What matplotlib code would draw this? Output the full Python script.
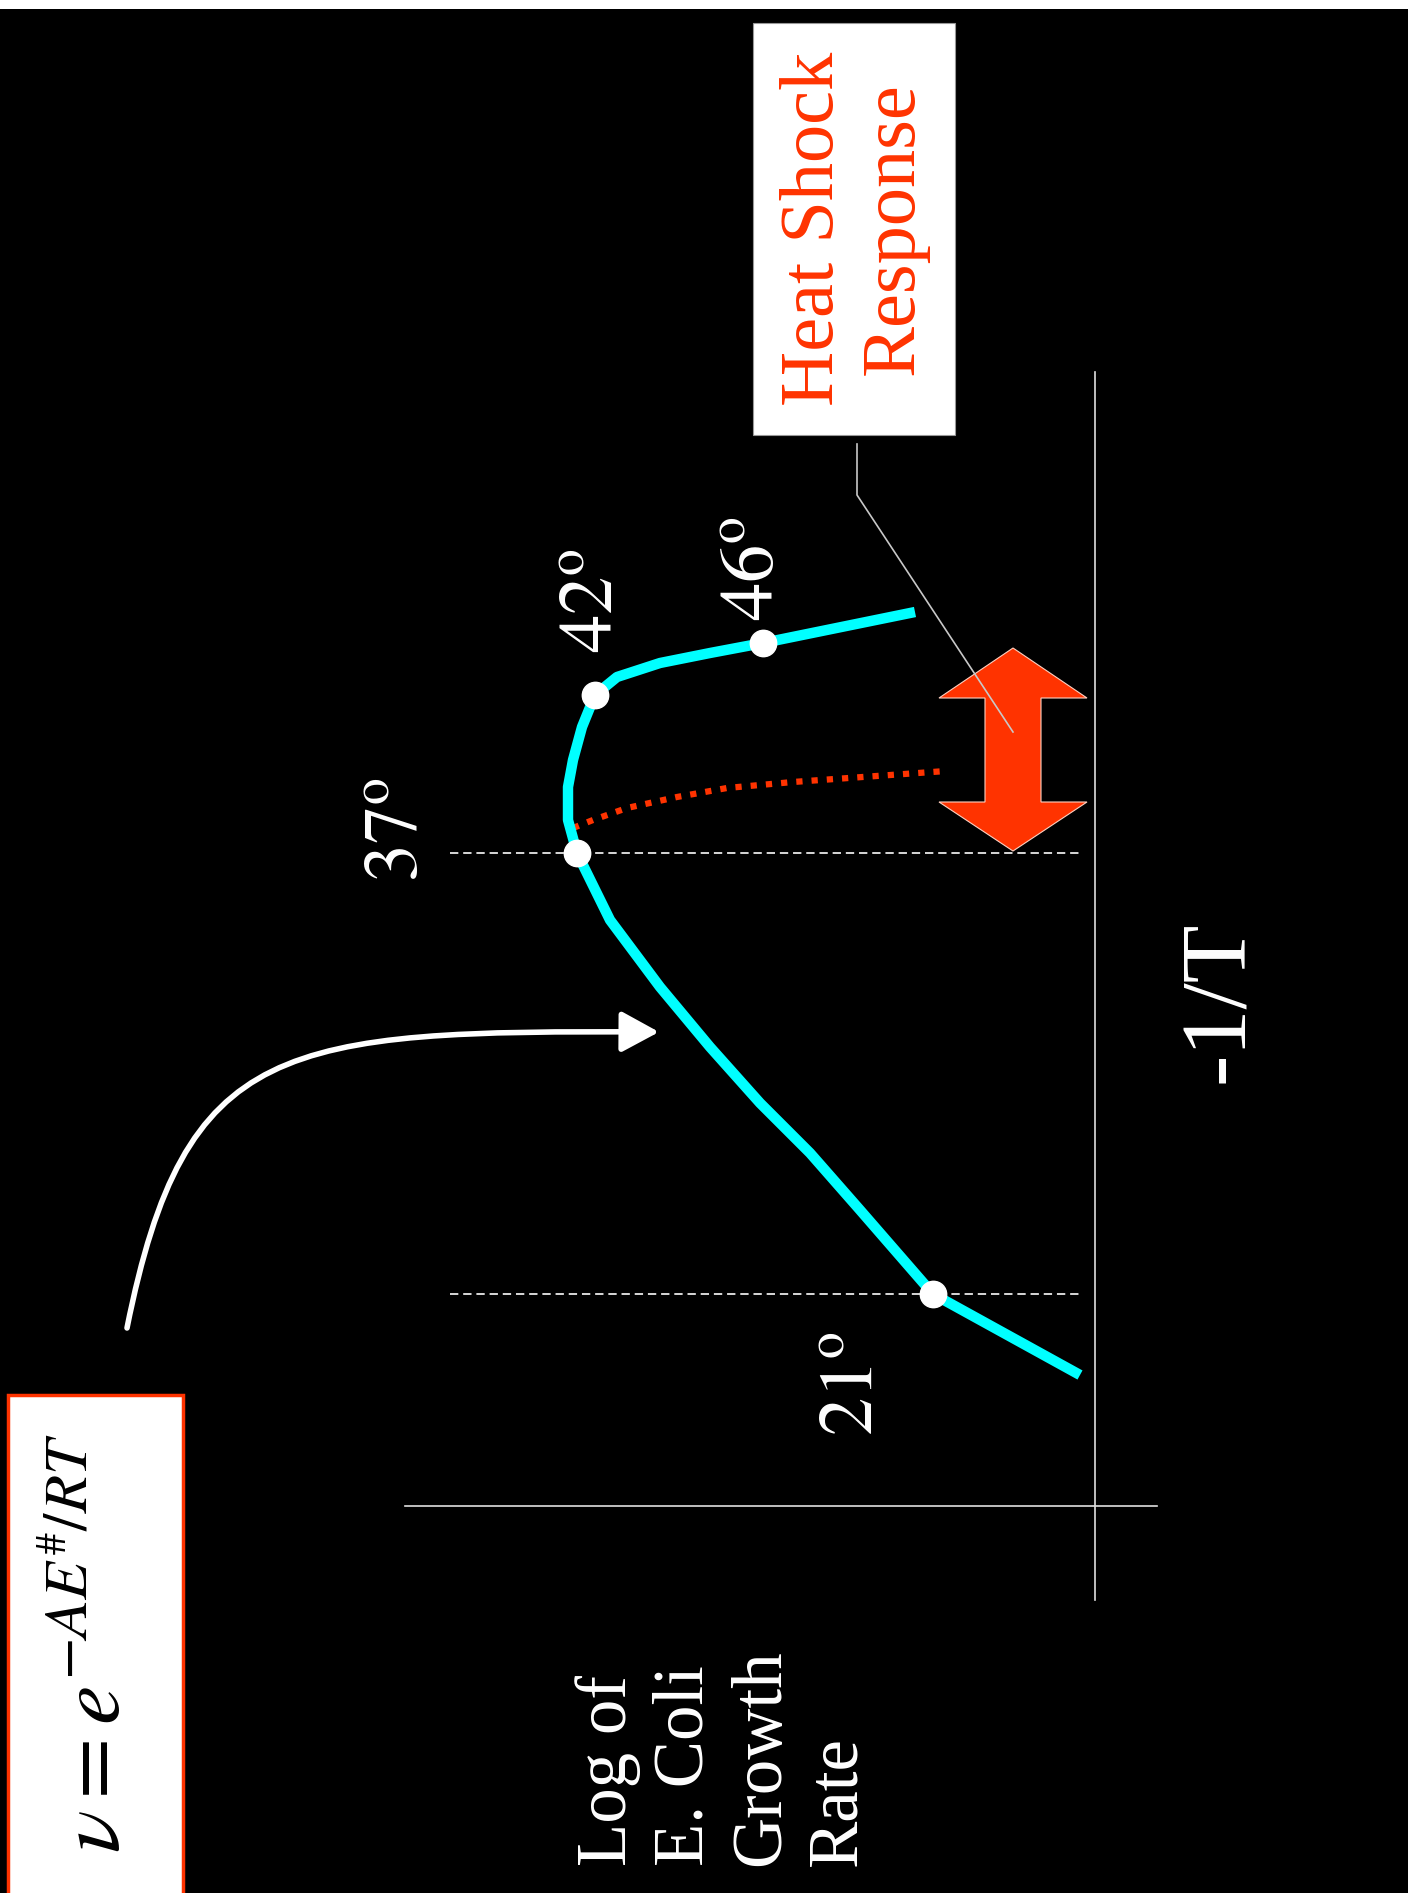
"""E. coli growth rate vs -1/T (Arrhenius plot), slide turned on its side."""

import matplotlib.pyplot as plt
from matplotlib.patches import FancyArrowPatch, Polygon, Rectangle
from matplotlib.path import Path

plt.rcParams["font.family"] = ["Liberation Serif", "DejaVu Serif"]
plt.rcParams["mathtext.fontset"] = "stix"
plt.rcParams["lines.scale_dashes"] = False

# chart units: inv_t = -1/T (runs up the page), log_rate = log growth rate (runs leftwards)
growth_inv_t = [1.31, 2.12, 2.96, 3.53, 4.03, 4.59, 5.19, 5.86, 6.53,
                6.86, 7.19, 7.46, 7.79, 8.11, 8.29, 8.43, 8.53, 8.63, 8.94]
growth_log_rate = [0.15, 1.62, 2.35, 2.85, 3.35, 3.85, 4.35, 4.85, 5.18,
                   5.27, 5.27, 5.22, 5.13, 5.00, 4.78, 4.35, 3.85, 3.32, 1.80]

marked_temps = ["21", "37", "42", "46"]
marked_inv_t = [2.12, 6.53, 8.11, 8.63]
marked_log_rate = [1.62, 5.18, 5.00, 3.32]

# expected (no heat shock response) branch above 37 degrees
shock_inv_t = [6.78, 6.86, 6.98, 7.09, 7.18, 7.24, 7.35]
shock_log_rate = [5.22, 5.02, 4.68, 4.18, 3.68, 3.02, 1.49]

# white arrow from the Arrhenius formula: start, two bezier handles, tip
arrow_inv_t = [1.78, 4.66, 4.76, 4.74]
arrow_log_rate = [9.68, 9.10, 8.15, 4.36]

fig = plt.figure(figsize=(14.08, 18.93), dpi=100, facecolor="black")
# thin white strip along the top edge
fig.add_artist(Rectangle((0, 1884 / 1893), 1, 9 / 1893, transform=fig.transFigure,
                         facecolor="white", edgecolor="none"))
ax = fig.add_axes([0, 0, 1, 1884 / 1893])
ax.set_xlim(10.95, -3.13)
ax.set_ylim(-3.87, 14.97)
ax.set_axis_off()

# axes of the sketch
ax.plot([0, 0], [-0.94, 11.34], color="#e0e0e0", lw=1.2)
ax.plot([-0.62, 6.90], [0, 0], color="#e0e0e0", lw=1.2)

# guide lines at 21 and 37 degrees
ax.hlines([marked_inv_t[0], marked_inv_t[1]], 6.45, 0.16, colors="#e8e8e8",
          lw=1.3, linestyles=[(0, (6, 3.5))])

# heat shock leader line
ax.plot([2.38, 2.38, 0.82], [10.62, 10.11, 7.74], color="#c8c8c8", lw=1.2, zorder=4)

ax.plot(shock_log_rate, shock_inv_t, color="#ff3300", lw=4.5,
        linestyle=(0, (4.5, 6.5)), dash_capstyle="butt", zorder=3)
ax.plot(growth_log_rate, growth_inv_t, color="#00ffff", lw=7.5, solid_capstyle="butt",
        solid_joinstyle="round", zorder=4)
ax.plot(marked_log_rate, marked_inv_t, "o", color="white", ms=19, zorder=5)

label_pos = [(2.42, 1.22), (6.96, 6.76), (5.01, 9.05), (3.41, 9.37)]
for t, (lx, ly) in zip(marked_temps, label_pos):
    ax.text(lx, ly, r"$\mathrm{%s^{o}}$" % t, color="white", fontsize=55,
            rotation=90, ha="center", va="center")

# double arrow for the heat shock response
c, shaft, head = 0.82, 0.28, 0.74
top, top_base, bot_base, bot = 8.58, 8.08, 7.04, 6.55
arrow_xy = [(c, top), (c + head, top_base), (c + shaft, top_base), (c + shaft, bot_base),
            (c + head, bot_base), (c, bot), (c - head, bot_base), (c - shaft, bot_base),
            (c - shaft, top_base), (c - head, top_base)]
ax.add_patch(Polygon(arrow_xy, closed=True, facecolor="#ff3300", edgecolor="#ffd0c0",
                     lw=0.8, zorder=3))

# curved white arrow
curve = Path(list(zip(arrow_log_rate, arrow_inv_t)),
             [Path.MOVETO, Path.CURVE4, Path.CURVE4, Path.CURVE4])
ax.add_patch(FancyArrowPatch(path=curve, arrowstyle="-|>,head_length=2.3,head_width=1.25",
                             mutation_scale=10, color="white", lw=4))

# heat shock box
ax.add_patch(Rectangle((1.40, 10.71), 2.02, 4.12, facecolor="white",
                       edgecolor="#999999", lw=0.8, zorder=4))
ax.text(2.41, 12.77, "Heat Shock\nResponse", color="#ff3300", fontsize=55,
        rotation=90, ha="center", va="center", zorder=5)

# formula box
ax.add_patch(Rectangle((9.12, -4.0), 1.75, 5.11, facecolor="white",
                       edgecolor="#ff3300", lw=2.5, zorder=4))
ax.text(10.0, -1.37, r"$\nu = e^{-AE^{\#}/RT}$", color="black", fontsize=64,
        rotation=90, ha="center", va="center", zorder=5)

ax.text(3.72, -3.60, "Log of\nE. Coli\nGrowth\nRate", color="white", fontsize=51,
        rotation=90, ha="center", va="bottom", multialignment="left", linespacing=1.23)
ax.text(-1.26, 5.04, "-1/T", color="white", fontsize=68, rotation=90,
        ha="center", va="center")

fig.savefig("out.png", dpi=100, facecolor=fig.get_facecolor())
plt.close(fig)
